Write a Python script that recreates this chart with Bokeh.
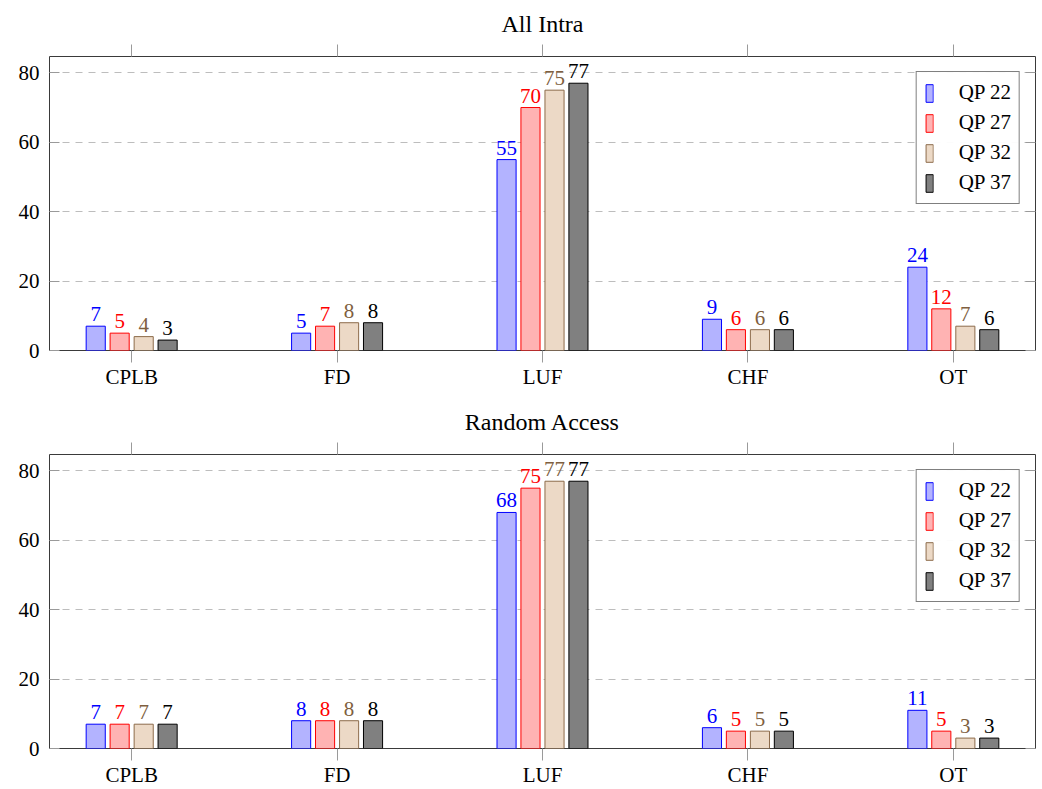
from bokeh.plotting import figure
from bokeh.models import (Range1d, FixedTicker, LinearAxis, ColumnDataSource, Legend, LegendItem, Title)
from bokeh.transform import dodge
from bokeh.layouts import column
from bokeh.embed import file_html
from bokeh.resources import INLINE
from bokeh.core.properties import value

categories = ["CPLB", "FD", "LUF", "CHF", "OT"]
series = ["QP 22", "QP 27", "QP 32", "QP 37"]
ai_qp22 = [7, 5, 55, 9, 24]
ai_qp27 = [5, 7, 70, 6, 12]
ai_qp32 = [4, 8, 75, 6, 7]
ai_qp37 = [3, 8, 77, 6, 6]
ra_qp22 = [7, 8, 68, 6, 11]
ra_qp27 = [7, 8, 75, 5, 5]
ra_qp32 = [7, 8, 77, 5, 3]
ra_qp37 = [7, 8, 77, 5, 3]
y_ticks = [0, 20, 40, 60, 80]

fills = ["#b3b3ff", "#ffb3b3", "#ecd9c6", "#808080"]
lines = ["#0000ff", "#ff0000", "#8c6b4a", "#000000"]
text_colors = ["#0000ff", "#ff0000", "#7f5f3f", "#000000"]
offsets = [-0.175, -0.0585, 0.0585, 0.175]
FONT = "Liberation Serif"


def make_panel(title, data, height, border_top, border_bottom):
    p = figure(width=1038, height=height, output_backend="svg", toolbar_location=None,
               x_range=Range1d(-0.4, 4.4), y_range=Range1d(0, 84.7),
               min_border_left=49, min_border_right=3,
               min_border_top=border_top, min_border_bottom=border_bottom,
               x_axis_location=None, y_axis_location=None)
    p.title = Title(text=title, align="center", text_font=FONT, text_font_size="24px",
                    text_font_style="normal", text_color="#000000", standoff=12,
                    vertical_align="top")
    p.outline_line_color = "#3a3a3a"
    p.outline_line_width = 1
    p.xgrid.visible = False
    p.background_fill_color = "white"
    p.border_fill_color = "white"

    xt = FixedTicker(ticks=list(range(len(categories))))
    yt = FixedTicker(ticks=y_ticks)
    overrides = {i: c for i, c in enumerate(categories)}

    bottom = LinearAxis(ticker=xt, major_label_overrides=overrides)
    top = LinearAxis(ticker=xt, major_label_overrides={i: "" for i in range(len(categories))})
    left = LinearAxis(ticker=yt)
    right = LinearAxis(ticker=yt, major_label_overrides={t: "" for t in y_ticks})
    for ax in (bottom, top, left, right):
        ax.axis_line_color = None
        ax.minor_tick_line_color = None
        ax.major_tick_line_color = "#9a9a9a"
        ax.major_label_text_font = FONT
        ax.major_label_text_font_size = "21px"
        ax.major_label_text_color = "#000000"
    for ax in (bottom, top):
        ax.major_tick_out = 12
        ax.major_tick_in = 0
        ax.major_label_standoff = 2
    for ax in (left, right):
        ax.major_tick_out = 0
        ax.major_tick_in = 10
        ax.major_label_standoff = 10
    top.major_label_text_font_size = "1px"
    top.major_label_standoff = 0
    right.major_label_text_font_size = "1px"
    right.major_label_standoff = 0
    p.add_layout(bottom, "below")
    p.add_layout(top, "above")
    p.add_layout(left, "left")
    p.add_layout(right, "right")

    p.ygrid.ticker = yt
    p.ygrid.grid_line_color = "#bdbdbd"
    p.ygrid.grid_line_dash = "7 6"

    src = ColumnDataSource(dict(xi=list(range(len(categories))),
                                v0=data[0], v1=data[1], v2=data[2], v3=data[3],
                                t0=[str(v) for v in data[0]], t1=[str(v) for v in data[1]],
                                t2=[str(v) for v in data[2]], t3=[str(v) for v in data[3]]))
    items = []
    for k in range(4):
        r = p.vbar(x=dodge("xi", offsets[k], range=p.x_range), top=f"v{k}", width=0.093,
                   source=src, fill_color=fills[k], line_color=lines[k], line_width=1)
        p.text(x=dodge("xi", offsets[k], range=p.x_range), y=f"v{k}", text=f"t{k}", source=src,
               text_align="center", text_baseline="bottom", y_offset=-5,
               text_font=value(FONT), text_font_size="21px", text_color=text_colors[k])
        items.append(LegendItem(label=series[k], renderers=[r]))
    legend = Legend(items=items, location="top_right", margin=15,
                    label_text_font=FONT, label_text_font_size="21px", label_text_color="#000000",
                    glyph_width=9, glyph_height=22, spacing=5, padding=8,
                    label_standoff=25, border_line_color="#000000", border_line_width=1)
    p.add_layout(legend, "center")
    return p


p1 = make_panel("All Intra", [ai_qp22, ai_qp27, ai_qp32, ai_qp37], 397, 56, 47)
p2 = make_panel("Random Access", [ra_qp22, ra_qp27, ra_qp32, ra_qp37], 392, 57, 41)
p = column(p1, p2, spacing=0)
open("out.html", "w").write(file_html(p, INLINE))
